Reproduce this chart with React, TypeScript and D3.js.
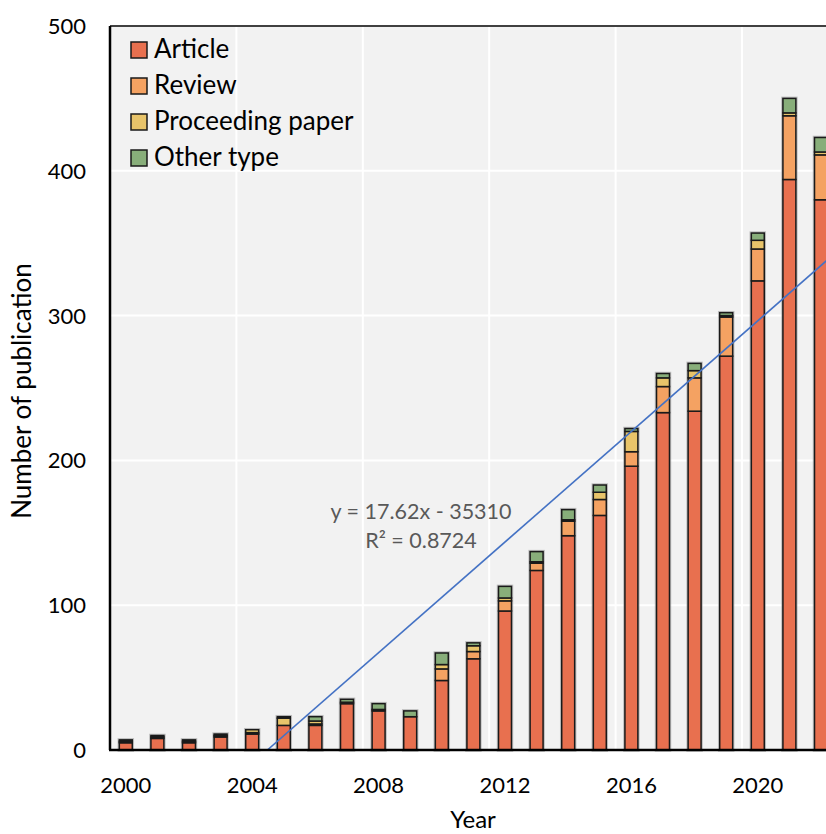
import React from "react";
import * as d3 from "d3";

const years = d3.range(2000, 2023);
const article = [5, 8, 5, 9, 11, 17, 17, 32, 27, 23, 48, 63, 96, 124, 148, 162, 196, 233, 234, 272, 324, 394, 380];
const review = [1, 1, 0, 1, 1, 0, 1, 1, 1, 0, 8, 5, 7, 5, 10, 11, 10, 18, 23, 27, 22, 44, 31];
const proceeding = [0, 0, 1, 1, 2, 5, 2, 0, 0, 0, 3, 4, 2, 1, 1, 5, 14, 6, 5, 1, 6, 2, 2];
const other = [1, 1, 1, 0, 0, 1, 3, 2, 4, 4, 8, 2, 8, 7, 7, 5, 2, 3, 5, 2, 5, 10, 10];

const seriesNames = ["Article", "Review", "Proceeding paper", "Other type"];
const seriesColors = ["#e8704f", "#f4a262", "#e8c46a", "#88ae7a"];
const yTicks = [0, 100, 200, 300, 400, 500];
const xTickYears = [2000, 2004, 2008, 2012, 2016, 2020];
// trendline as drawn (visual): zero-crossing year and slope per year
const trendZeroYear = 2004.48;
const trendSlope = 19.1;
const equationText = "y = 17.62x - 35310";
const r2Text = "R² = 0.8724";

const W = 826;
const H = 834;
const left = 110;
const top = 26;
const bottom = 750;
const step = 31.6;
const slotYears = d3.range(2000, 2024);
const right = left + slotYears.length * step;

export default function App() {
  const x = d3
    .scaleBand<number>()
    .domain(slotYears)
    .range([left, right])
    .paddingInner(0.59)
    .paddingOuter(0.295);
  const y = d3.scaleLinear().domain([0, 500]).range([bottom, top]);
  const xc = (yr: number) => (x(yr) as number) + x.bandwidth() / 2;
  const xYear = d3
    .scaleLinear()
    .domain([2000, 2001])
    .range([xc(2000), xc(2001)]);

  const rows = years.map((yr, i) => ({
    year: yr,
    Article: article[i],
    Review: review[i],
    "Proceeding paper": proceeding[i],
    "Other type": other[i],
  }));
  const stack = d3.stack<any>().keys(seriesNames)(rows);

  const font = "Lato, 'Open Sans', sans-serif";
  const trendEndYear = 2023.5;
  const trendLine = d3.line<[number, number]>()(
    [
      [xYear(trendZeroYear), y(0)],
      [xYear(trendEndYear), y(trendSlope * (trendEndYear - trendZeroYear))],
    ]
  );

  return (
    <svg
      width={W}
      height={H}
      style={{ position: "absolute", left: 0, top: 0, background: "#fff", overflow: "hidden" }}
      fontFamily={font}
    >
      <defs>
        <clipPath id="plotclip">
          <rect x={left} y={top} width={right - left} height={bottom - top} />
        </clipPath>
      </defs>
      <rect x={left} y={top} width={right - left} height={bottom - top} fill="#f2f2f2" />
      {/* horizontal gridlines */}
      {yTicks.slice(1).map((t) => (
        <line key={"hg" + t} x1={left} x2={right} y1={y(t)} y2={y(t)} stroke="#ffffff" strokeWidth={2} />
      ))}
      {/* vertical gridlines */}
      {xTickYears.slice(1).concat([2024]).map((yr) => (
        <line
          key={"vg" + yr}
          x1={xc(yr) - step / 2}
          x2={xc(yr) - step / 2}
          y1={top}
          y2={bottom}
          stroke="#ffffff"
          strokeWidth={2}
        />
      ))}
      {/* bar halos */}
      {rows.map((r, i) => {
        const tot = article[i] + review[i] + proceeding[i] + other[i];
        return (
          <rect
            key={"halo" + r.year}
            x={x(r.year)}
            y={y(tot)}
            width={x.bandwidth()}
            height={y(0) - y(tot)}
            fill="none"
            stroke="#9a9a9a"
            strokeOpacity={0.6}
            strokeWidth={3.5}
          />
        );
      })}
      {/* bars */}
      {stack.map((s, si) => (
        <g key={seriesNames[si]}>
          {s.map((d: any, i: number) =>
            d[1] - d[0] > 0 ? (
              <rect
                key={i}
                x={x(years[i])}
                y={y(d[1])}
                width={x.bandwidth()}
                height={y(d[0]) - y(d[1])}
                fill={seriesColors[si]}
                stroke="#1a1a1a"
                strokeWidth={1.5}
              />
            ) : null
          )}
        </g>
      ))}
      {/* trendline */}
      <path d={trendLine || ""} stroke="#4472c4" strokeWidth={1.6} fill="none" clipPath="url(#plotclip)" />
      {/* frame */}
      <line x1={left} x2={right} y1={top} y2={top} stroke="#000" strokeWidth={1.5} />
      <line x1={left} x2={left} y1={top} y2={bottom} stroke="#000" strokeWidth={2.5} />
      <line x1={left - 1} x2={right} y1={bottom} y2={bottom} stroke="#000" strokeWidth={2.5} />
      {/* y ticks */}
      {yTicks.map((t) => (
        <g key={"yt" + t}>
          <text x={86} y={y(t) + 8} textAnchor="end" fontSize={22} fill="#000">
            {t}
          </text>
        </g>
      ))}
      {/* x ticks */}
      {xTickYears.map((yr) => (
        <text key={"xt" + yr} x={xc(yr)} y={793} textAnchor="middle" fontSize={22} fill="#000">
          {yr}
        </text>
      ))}
      {/* axis titles */}
      <text x={473} y={828} textAnchor="middle" fontSize={24} fill="#000">
        Year
      </text>
      <text
        transform={`translate(31,391) rotate(-90)`}
        textAnchor="middle"
        fontSize={26}
        fill="#000"
      >
        Number of publication
      </text>
      {/* equation */}
      <text x={421} y={519} textAnchor="middle" fontSize={21.5} fill="#595959">
        {equationText}
      </text>
      <text x={421} y={548} textAnchor="middle" fontSize={21.5} fill="#595959">
        {r2Text}
      </text>
      {/* legend */}
      {seriesNames.map((n, i) => (
        <g key={"lg" + n} transform={`translate(131, ${42 + i * 36})`}>
          <rect x={0} y={0} width={16} height={16} fill={seriesColors[i]} stroke="#1a1a1a" strokeWidth={1.5} />
          <text x={23} y={16} fontSize={26} fill="#000">
            {n}
          </text>
        </g>
      ))}
    </svg>
  );
}
